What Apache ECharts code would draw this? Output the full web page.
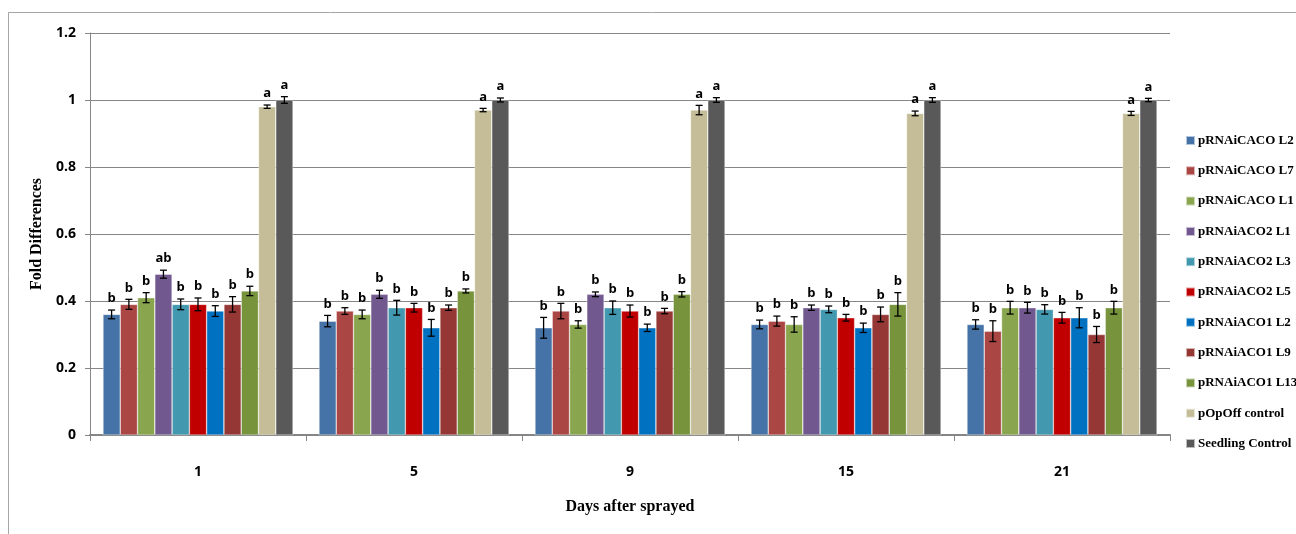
<!DOCTYPE html>
<html><head><meta charset="utf-8">
<script src="https://cdn.jsdelivr.net/npm/echarts@6/dist/echarts.min.js"></script>
<style>html,body{margin:0;padding:0;background:#fff}#c{width:1296px;height:534px}</style>
</head><body><div id="c"></div>
<script>
const categories = ['1', '5', '9', '15', '21'];
const seriesNames = ['pRNAiCACO L2','pRNAiCACO L7','pRNAiCACO L1','pRNAiACO2 L1','pRNAiACO2 L3','pRNAiACO2 L5','pRNAiACO1 L2','pRNAiACO1 L9','pRNAiACO1 L13','pOpOff control','Seedling Control'];
const colors = ['#4572A7','#AA4643','#89A54E','#71588F','#4198AF','#C00000','#0070C0','#953735','#77933C','#C4BD97','#595959'];

const valCACO_L2 = [0.36, 0.34, 0.32, 0.33, 0.33];
const valCACO_L7 = [0.39, 0.37, 0.37, 0.34, 0.31];
const valCACO_L1 = [0.41, 0.36, 0.33, 0.33, 0.38];
const valACO2_L1 = [0.48, 0.42, 0.42, 0.38, 0.38];
const valACO2_L3 = [0.39, 0.38, 0.38, 0.375, 0.375];
const valACO2_L5 = [0.39, 0.38, 0.37, 0.35, 0.35];
const valACO1_L2 = [0.37, 0.32, 0.32, 0.32, 0.35];
const valACO1_L9 = [0.39, 0.38, 0.37, 0.36, 0.30];
const valACO1_L13 = [0.43, 0.43, 0.42, 0.39, 0.38];
const valPOpOff = [0.98, 0.97, 0.97, 0.96, 0.96];
const valSeedling = [1.0, 1.0, 1.0, 1.0, 1.0];

const errCACO_L2 = [0.013, 0.017, 0.031, 0.013, 0.014];
const errCACO_L7 = [0.015, 0.010, 0.023, 0.015, 0.031];
const errCACO_L1 = [0.015, 0.013, 0.011, 0.023, 0.019];
const errACO2_L1 = [0.012, 0.012, 0.007, 0.008, 0.016];
const errACO2_L3 = [0.016, 0.022, 0.020, 0.010, 0.014];
const errACO2_L5 = [0.019, 0.013, 0.018, 0.010, 0.016];
const errACO1_L2 = [0.016, 0.025, 0.011, 0.014, 0.030];
const errACO1_L9 = [0.023, 0.008, 0.008, 0.022, 0.024];
const errACO1_L13 = [0.014, 0.006, 0.008, 0.035, 0.019];
const errPOpOff = [0.005, 0.005, 0.014, 0.007, 0.006];
const errSeedling = [0.010, 0.006, 0.007, 0.007, 0.005];

const letters1 = ['b','b','b','ab','b','b','b','b','b','a','a'];
const lettersOther = ['b','b','b','b','b','b','b','b','b','a','a'];

const values = [valCACO_L2,valCACO_L7,valCACO_L1,valACO2_L1,valACO2_L3,valACO2_L5,valACO1_L2,valACO1_L9,valACO1_L13,valPOpOff,valSeedling];
const errors = [errCACO_L2,errCACO_L7,errCACO_L1,errACO2_L1,errACO2_L3,errACO2_L5,errACO1_L2,errACO1_L9,errACO1_L13,errPOpOff,errSeedling];
const letters = categories.map((c, j) => j === 0 ? letters1 : lettersOther);

const N = seriesNames.length;
const CAT_GAP = 0.12;

const series = [];
seriesNames.forEach((name, i) => {
  series.push({
    name, type: 'bar', data: values[i], barGap: 0, barCategoryGap: (CAT_GAP*100)+'%',
    itemStyle: { color: colors[i], borderColor: 'rgba(255,255,255,0.6)', borderWidth: 0.6 },
    emphasis: { disabled: true }, animation: false, z: 2
  });
});
seriesNames.forEach((name, i) => {
  series.push({
    type: 'custom', name: name + ' err', silent: true, animation: false, z: 5,
    data: values[i].map((v, j) => [j, v, errors[i][j], letters[j][i]]),
    renderItem: function (params, api) {
      const j = api.value(0), v = api.value(1), e = api.value(2);
      const catW = api.size([1, 0])[0];
      const barW = catW * (1 - CAT_GAP) / N;
      const center = api.coord([j, v]);
      const x = center[0] - catW * (1 - CAT_GAP) / 2 + (i + 0.5) * barW;
      const top = api.coord([j, v + e])[1];
      const bot = api.coord([j, v - e])[1];
      const cap = 3.5;
      const st = { stroke: '#000', lineWidth: 1.3 };
      const letter = letters[j][i];
      return { type: 'group', children: [
        { type: 'line', shape: { x1: x, y1: top, x2: x, y2: bot }, style: st },
        { type: 'line', shape: { x1: x - cap, y1: top, x2: x + cap, y2: top }, style: st },
        { type: 'line', shape: { x1: x - cap, y1: bot, x2: x + cap, y2: bot }, style: st },
        { type: 'text', style: { text: letter, x: x, y: top - 5, align: 'center', verticalAlign: 'bottom',
          fill: '#000', font: 'bold 13px "Open Sans", sans-serif' } }
      ]};
    }
  });
});

const chart = echarts.init(document.getElementById('c'), null, { renderer: 'canvas' });
chart.setOption({
  animation: false,
  backgroundColor: '#fff',
  color: colors,
  graphic: [{ type: 'rect', shape: { x: 8.5, y: 12.5, width: 1400, height: 700 }, style: { fill: 'none', stroke: '#a6a6a6', lineWidth: 1 }, silent: true }],
  grid: { left: 90, right: 126, top: 33, bottom: 99, containLabel: false },
  legend: {
    orient: 'vertical', left: 1180, top: 129, itemWidth: 9, itemHeight: 9, itemGap: 17.3,
    icon: 'rect', data: seriesNames, selectedMode: false,
    textStyle: { fontFamily: '"Liberation Serif", serif', fontWeight: 'bold', fontSize: 13, color: '#000', padding: [0,0,0,-2] }
  },
  xAxis: {
    type: 'category', data: categories,
    name: 'Days after sprayed', nameLocation: 'middle', nameGap: 64,
    nameTextStyle: { fontFamily: '"Liberation Serif", serif', fontWeight: 'bold', fontSize: 16, color: '#000' },
    axisLine: { lineStyle: { color: '#868686', width: 2 } },
    axisTick: { show: true, length: 6, lineStyle: { color: '#868686' } },
    axisLabel: { margin: 30, color: '#000', fontWeight: 'bold', fontSize: 14, fontFamily: '"Open Sans", sans-serif' }
  },
  yAxis: {
    type: 'value', min: 0, max: 1.2, interval: 0.2,
    name: 'Fold Differences', nameLocation: 'middle', nameGap: 45,
    nameTextStyle: { fontFamily: '"Liberation Serif", serif', fontWeight: 'bold', fontSize: 16, color: '#000' },
    axisLine: { show: true, lineStyle: { color: '#868686', width: 1 } },
    axisTick: { show: true, length: 5, lineStyle: { color: '#868686' } },
    splitLine: { lineStyle: { color: '#868686', width: 1 } },
    axisLabel: { margin: 14, color: '#000', fontWeight: 'bold', fontSize: 14, fontFamily: '"Open Sans", sans-serif',
      formatter: v => String(Math.round(v * 10) / 10) }
  },
  series
});
</script></body></html>
